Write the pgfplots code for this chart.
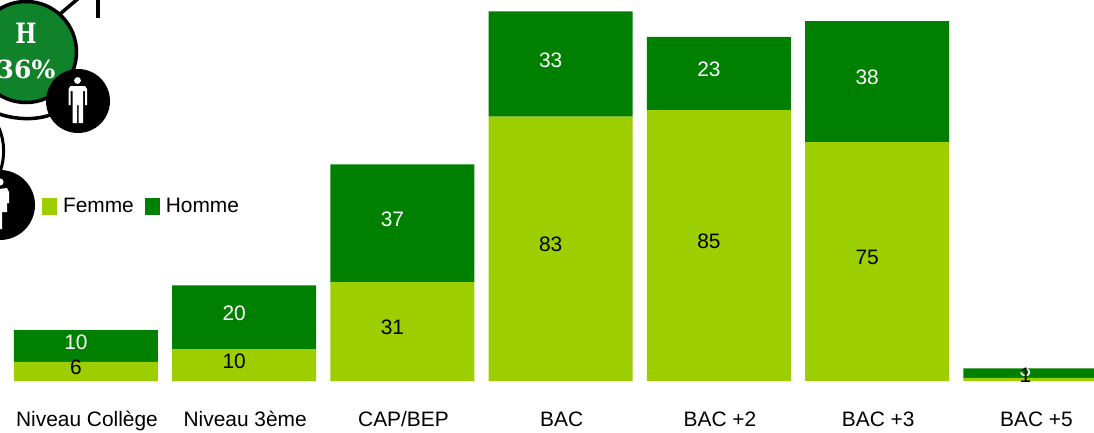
\documentclass[border=0pt]{standalone}
\usepackage{fontspec}
\setmainfont{Liberation Sans}
\newfontfamily\badgefont[Scale=1]{DejaVu Serif}
\usepackage{pgfplots}
\pgfplotsset{compat=1.18}
\definecolor{femme}{HTML}{9DCE00}
\definecolor{homme}{HTML}{008000}
\definecolor{badge}{HTML}{108229}
\newcommand{\lbl}{\fontsize{20.9}{25}\selectfont}

\begin{document}
\begin{tikzpicture}
\useasboundingbox (0pt,-51pt) rectangle (1094pt,381pt);
\begin{axis}[
    at={(0pt,0pt)},
    anchor=south west,
    scale only axis,
    width=1094pt,
    height=381pt,
    ybar stacked,
    bar width=144pt,
    xmin=-0.5433, xmax=6.370,
    ymin=0, ymax=119.6,
    axis y line=none,
    axis x line*=bottom,
    axis line style={draw=none},
    major tick length=0pt,
    xtick={0,1,2,3,4,5,6},
    xticklabels={Niveau Collège,Niveau 3ème,CAP/BEP,BAC,BAC +2,BAC +3,BAC +5},
    xticklabel style={font=\lbl, anchor=base, inner sep=0pt, xshift=1pt, yshift=-45pt},
    /pgf/number format/assume math mode=true,
    nodes near coords,
    every node near coord/.append style={font=\lbl, xshift=-10pt, yshift=4pt},
    legend style={
        at={(42pt,175pt)}, anchor=west, draw=none, fill=none,
        font=\lbl, inner sep=0pt, outer sep=0pt,
        /tikz/every even column/.append style={column sep=9pt},
        /tikz/every odd column/.append style={column sep=4pt},
    },
    legend columns=2,
    legend cell align=left,
    legend image code/.code={\fill[#1] (0pt,-8.5pt) rectangle (15pt,8.5pt);},
]
\addplot[fill=femme, draw=none, every node near coord/.append style={text=black}]
    coordinates {(0,6) (1,10) (2,31) (3,83) (4,85) (5,75) (6,1)};
\addlegendentry{Femme}
\addplot[fill=homme, draw=none, every node near coord/.append style={text=white}]
    coordinates {(0,10) (1,20) (2,37) (3,33) (4,23) (5,38) (6,3)};
\addlegendentry{Homme}
\end{axis}

% badge decoration, in pixels from the top left corner
\begin{scope}[x=1pt, y=-1pt, shift={(0pt,381pt)}]
\clip (0,0) rectangle (1094,432);
\draw[line width=3.5pt] (60,14) -- (80,-3);
\draw[line width=4pt] (97.5,-2) -- (97.5,18);
\draw[line width=3.5pt] (-10,110) .. controls (5,118) and (30,122) .. (50,115);
\draw[line width=3.5pt, fill=badge] (26,52) circle[radius=50.5];
\node[font=\badgefont\bfseries\fontsize{28}{30}\selectfont, text=white] at (26,33) {\scalebox{0.8}[1]{H}};
\node[font=\badgefont\bfseries\fontsize{25}{30}\selectfont, text=white] at (26,69) {36\%};
% man
\fill (78,101) circle[radius=32];
\fill[white] (77.5,80.5) circle[radius=3.4];
\fill[white] (68.5,89) -- (70.5,86) -- (85,86) -- (87,89) -- (87,105) -- (85,105) -- (85,91) -- (83,91)
  -- (83,123) -- (78.5,123) -- (78.5,105) -- (77,105) -- (77,123) -- (72.5,123) -- (72.5,91) -- (70.5,91) -- (70.5,105) -- (68.5,105) -- cycle;
% woman
\draw[line width=3pt] (-1,128) .. controls (5,142) and (5,158) .. (0,172);
\fill (0,205) circle[radius=35];
\fill[white] (0,182) circle[radius=3.6];
\fill[white] (-9,190) -- (7,188) -- (9,192) -- (9,203) -- (7,203) -- (7,212) -- (2,212) -- (2,229) -- (-9,229) -- cycle;
\end{scope}
\end{tikzpicture}
\end{document}
